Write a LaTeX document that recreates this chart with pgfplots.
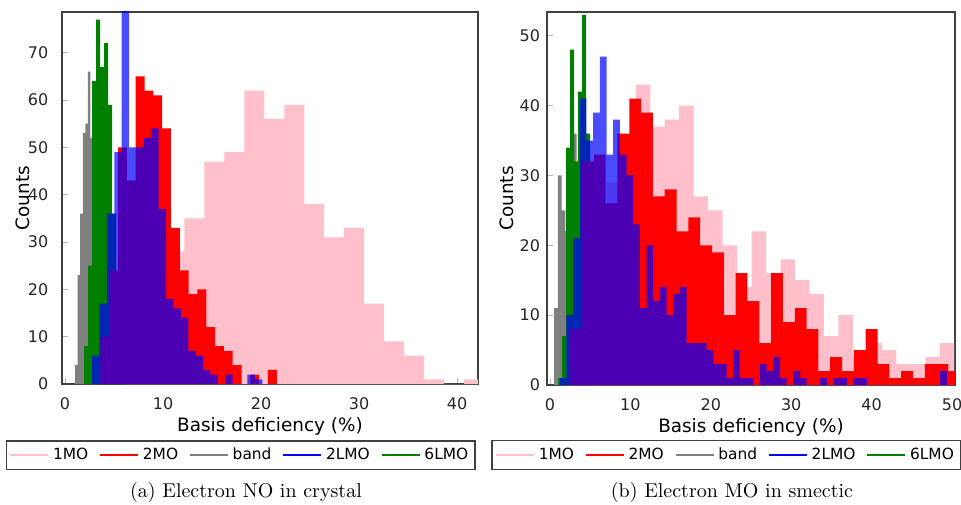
\documentclass[border=0pt]{standalone}
\usepackage{fontspec}
\usepackage{pgfplots}
\pgfplotsset{compat=1.18}
\newfontfamily\dejavu{DejaVu Sans}
\definecolor{mopink}{RGB}{255,192,203}
\definecolor{mogreen}{RGB}{0,128,0}
\definecolor{framegray}{RGB}{64,64,64}

\pgfplotsset{
  histo/.style={
    scale only axis,
    axis line style={framegray, line width=0.9pt},
    ymin=0,
    tick style={black!30, line width=0.4pt},
    major tick length=3pt, minor tick length=1.5pt,
    xtick pos=bottom, ytick pos=left,
    tick align=inside,
    minor x tick num=1,
    ticklabel style={font=\dejavu\fontsize{8}{9.6}\selectfont, text=black!85},
    /pgf/number format/assume math mode=true,
    xticklabel style={yshift=-3.2pt},
    label style={font=\dejavu\fontsize{9.2}{11}\selectfont},
    xlabel={Basis deficiency (\%)},
    ylabel={Counts},
    xlabel style={at={(axis description cs:0.5,-0.113)}, anchor=center},
    legend columns=5,
    legend style={font=\dejavu\fontsize{7.7}{9}\selectfont, draw=framegray,
      line width=0.8pt, anchor=north, inner sep=1.5pt,
      /tikz/every even column/.append style={column sep=3.5pt}},
    legend image code/.code={\draw[#1, line width=0.8pt] (0pt,0pt) -- (19pt,0pt);},
  },
  bin/.style={ybar interval, draw=none, forget plot},
}

\begin{document}
\begin{tikzpicture}
\path[use as bounding box] (0pt,0pt) rectangle (480.5pt,-252pt);

% (a) crystal
\begin{axis}[histo, at={(31pt,-192pt)}, anchor=south west,
  width=208pt, height=186pt,
  xmin=-0.31, xmax=42.14, ymax=78.6,
  xtick={0,10,20,30,40}, ytick={0,10,...,70},
  yticklabel style={xshift=-3.3pt},
  ylabel style={at={(axis description cs:-0.094,0.5)}, anchor=center},
  legend style={at={(axis description cs:0.43,-0.1505)}}]
\addlegendimage{mopink}\addlegendentry{1MO}
\addlegendimage{red}\addlegendentry{2MO}
\addlegendimage{gray}\addlegendentry{band}
\addlegendimage{blue}\addlegendentry{2LMO}
\addlegendimage{mogreen}\addlegendentry{6LMO}
% 1MO
\addplot[bin, fill=mopink] coordinates {
 (6.05,5) (8.09,15) (10.13,28) (12.17,35) (14.21,47) (16.25,49) (18.29,62)
 (20.33,56) (22.37,59) (24.41,38) (26.45,31) (28.49,33) (30.53,17) (32.57,9)
 (34.61,6) (36.65,1) (38.69,0) (40.73,1) (42.77,0)};
% band
\addplot[bin, fill=gray] coordinates {
 (1.02,4) (1.28,23) (1.54,36) (1.81,53) (2.07,55) (2.33,66) (2.59,52)
 (2.85,40) (3.11,25) (3.37,10) (3.63,0)};
% 6LMO
\addplot[bin, fill=mogreen] coordinates {
 (1.94,8) (2.35,25) (2.76,64) (3.17,77) (3.58,67) (3.99,72) (4.40,59)
 (4.81,36) (5.22,20) (5.63,8) (6.04,0)};
% 2MO
\addplot[bin, fill=red] coordinates {
 (3.61,10) (4.51,24) (5.41,50) (6.31,43) (7.21,65) (8.11,62) (9.01,61)
 (9.91,54) (10.81,33) (11.71,24) (12.61,19) (13.51,20) (14.41,12) (15.31,8)
 (16.21,7) (17.11,4) (18.01,0) (18.91,2) (19.81,0) (20.71,3) (21.61,0)};
% 2LMO
\addplot[bin, fill=blue, fill opacity=0.7] coordinates {
 (2.76,6) (3.515,17) (4.27,36) (5.025,49) (5.78,80) (6.535,50) (7.29,50)
 (8.045,52) (8.80,54) (9.555,37) (10.31,18) (11.065,16) (11.82,14)
 (12.575,7) (13.33,6) (14.085,3) (14.84,2) (15.595,0) (16.35,2) (17.105,0)
 (17.86,0) (18.615,2) (19.37,1) (20.125,0)};
\end{axis}

% (b) smectic
\begin{axis}[histo, at={(273.5pt,-192.5pt)}, anchor=south west,
  width=204pt, height=186.5pt,
  xmin=-0.37, xmax=50.37, ymax=53.4,
  xtick={0,10,...,50}, ytick={0,10,...,50},
  ylabel style={at={(axis description cs:-0.098,0.5)}, anchor=center},
  legend style={at={(axis description cs:0.44,-0.147)}}]
\addlegendimage{mopink}\addlegendentry{1MO}
\addlegendimage{red}\addlegendentry{2MO}
\addlegendimage{gray}\addlegendentry{band}
\addlegendimage{blue}\addlegendentry{2LMO}
\addlegendimage{mogreen}\addlegendentry{6LMO}
% 1MO
\addplot[bin, fill=mopink] coordinates {
 (1.67,5) (3.47,15) (5.27,25) (7.07,29) (8.87,34) (10.67,43) (12.47,37)
 (14.27,38) (16.07,40) (17.87,27) (19.67,25) (21.47,20) (23.27,14)
 (25.07,22) (26.87,16) (28.67,18) (30.47,15) (32.27,13) (34.07,7)
 (35.87,10) (37.67,4) (39.47,6) (41.27,5) (43.07,3) (44.87,3) (46.67,4)
 (48.47,6) (50.27,0)};
% band
\addplot[bin, fill=gray] coordinates {
 (0.5,11) (0.97,30) (1.44,25) (1.91,22) (2.38,30) (2.85,36) (3.32,0)};
% 6LMO
\addplot[bin, fill=mogreen] coordinates {
 (1.0,1) (1.5,7) (2.0,34) (2.5,48) (3.0,32) (3.5,42) (4.0,53) (4.5,36) (5.0,0)};
% 2MO
\addplot[bin, fill=red] coordinates {
 (2.51,8) (3.98,32) (5.45,33) (6.92,26) (8.39,36) (9.86,41) (11.33,39)
 (12.80,27) (14.27,28) (15.74,22) (17.21,24) (18.68,20) (20.15,19)
 (21.62,10) (23.09,16) (24.56,12) (26.03,6) (27.50,16) (28.97,9)
 (30.44,11) (31.91,8) (33.38,2) (34.85,4) (36.32,2) (37.79,5) (39.26,8)
 (40.73,3) (42.20,1) (43.67,2) (45.14,1) (46.61,3) (48.08,3) (49.55,2)
 (51.02,0)};
% 2LMO
\addplot[bin, fill=blue, fill opacity=0.7] coordinates {
 (1.22,1) (2.05,10) (2.88,21) (3.71,41) (4.54,35) (5.37,39) (6.20,47)
 (7.03,33) (7.86,38) (8.69,33) (9.52,30) (10.35,23) (11.18,11) (12.01,20)
 (12.84,12) (13.67,14) (14.50,10) (15.33,13) (16.16,14) (16.99,6)
 (17.82,6) (18.65,6) (19.48,5) (20.31,3) (21.14,3) (21.97,1) (22.80,5)
 (23.63,1) (24.46,1) (25.29,0) (26.12,3) (26.95,2) (27.78,4) (28.61,1)
 (29.44,0) (30.27,2) (31.10,1) (31.93,0) (32.76,0) (33.59,1) (34.42,0)
 (35.25,1) (36.08,1) (36.91,0) (37.74,1) (38.57,1) (39.40,0) (48.53,2)
 (49.36,0)};
\end{axis}

\node[font=\fontsize{10}{12}\selectfont] at (123pt,-246pt) {(a) Electron NO in crystal};
\node[font=\fontsize{10}{12}\selectfont] at (366pt,-246pt) {(b) Electron MO in smectic};
\end{tikzpicture}
\end{document}
